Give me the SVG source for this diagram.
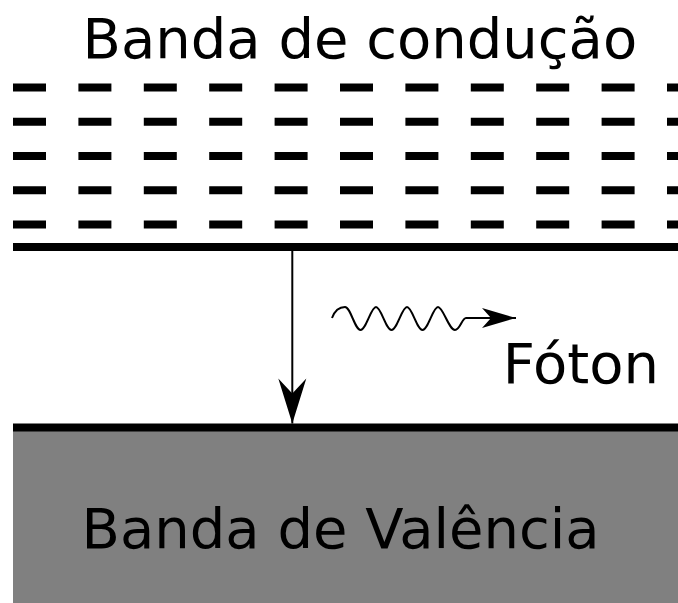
<svg xmlns="http://www.w3.org/2000/svg" width="678" height="603" viewBox="0 0 678 603">
  <style>
    .label { font-family: "DejaVu Sans", Verdana, sans-serif; font-size: 56px; fill: #000; }
    .dash { stroke: #000; stroke-width: 8; stroke-dasharray: 33 32.4; fill: none; }
    .level { stroke: #000; stroke-width: 8; fill: none; }
    .thin { stroke: #000; stroke-width: 2; fill: none; }
  </style>
  <defs>
    <marker id="headBig" markerUnits="userSpaceOnUse" orient="auto" refX="0" refY="0" markerWidth="60" markerHeight="40" overflow="visible">
      <path d="M0,0 L-45,-14 L-30,0 L-45,14 Z" fill="#000"/>
    </marker>
    <marker id="headSmall" markerUnits="userSpaceOnUse" orient="auto" refX="0" refY="0" markerWidth="50" markerHeight="30" overflow="visible">
      <path d="M0,0 L-34,-10 L-25,0 L-34,10 Z" fill="#000"/>
    </marker>
  </defs>
  <rect width="678" height="603" fill="#fff"/>

  <g id="conduction-band">
    <text class="label" x="82.5" y="58.3">Banda de condução</text>
    <line class="dash" x1="13" y1="87.5" x2="678" y2="87.5"/>
    <line class="dash" x1="13" y1="121.7" x2="678" y2="121.7"/>
    <line class="dash" x1="13" y1="156" x2="678" y2="156"/>
    <line class="dash" x1="13" y1="190.2" x2="678" y2="190.2"/>
    <line class="dash" x1="13" y1="224.4" x2="678" y2="224.4"/>
    <line class="level" x1="13" y1="247" x2="678" y2="247"/>
  </g>

  <g id="valence-band">
    <rect x="13" y="427.5" width="665" height="175.5" fill="#808080"/>
    <line class="level" x1="13" y1="427.5" x2="678" y2="427.5"/>
    <text class="label" x="81.5" y="547.5">Banda de Valência</text>
  </g>

  <g id="photon">
    <text class="label" x="502.8" y="383.3">Fóton</text>
  </g>

  <g id="connectors">
    <line class="thin" x1="292.3" y1="251" x2="292.3" y2="423.5" marker-end="url(#headBig)"/>
    <path class="thin" d="M332,318 C335,310 340,307 345,307 C350.5,307 355,330 360.5,330 S371,307 376,307 S386,330 391.5,330 S402,307 407,307 S417,330 422.5,330 S433,307 438,307 S449,330 455,330 C460,330 462,318 466,318 L516,318" marker-end="url(#headSmall)"/>
  </g>
</svg>
